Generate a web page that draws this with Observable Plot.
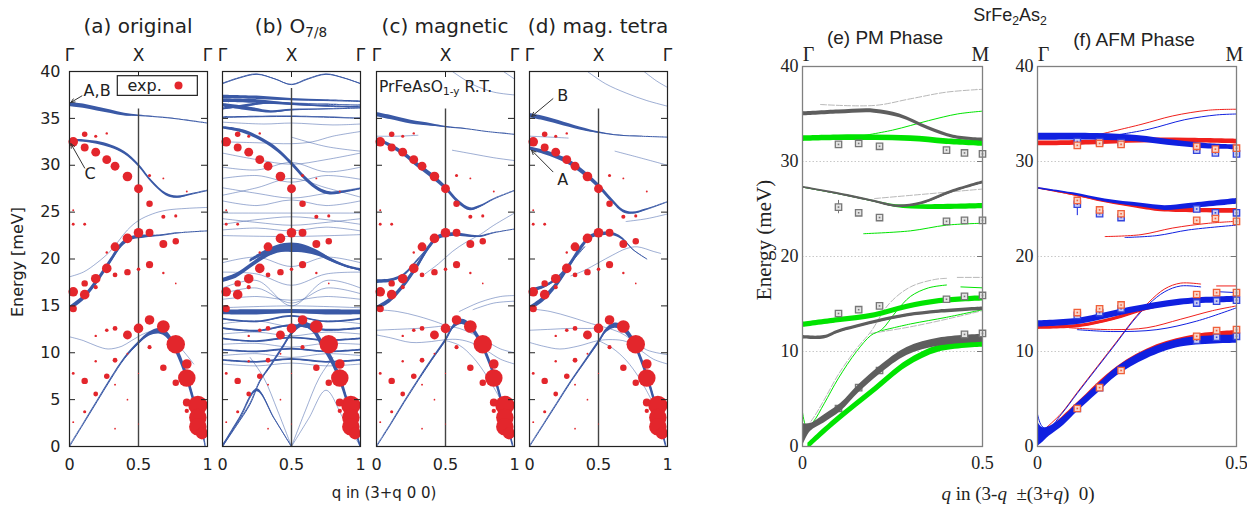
<!DOCTYPE html>
<html><head><meta charset="utf-8">
<script src="https://cdn.jsdelivr.net/npm/d3@7"></script>
<script src="https://cdn.jsdelivr.net/npm/@observablehq/plot@0.6"></script>
<style>
body{margin:0;background:#fff;}
#root{position:relative;width:1247px;height:508px;overflow:hidden;background:#fff;}
.lbl{position:absolute;white-space:nowrap;line-height:1;transform:translate(-50%,-50%);color:#222;}
.sans{font-family:"DejaVu Sans",sans-serif;}
.lsans{font-family:"Liberation Sans",Arial,sans-serif;}
.serif{font-family:"Liberation Serif","Times New Roman",serif;}
sub{font-size:0.68em;vertical-align:-0.3em;line-height:0;}
svg{position:absolute;top:0;}
</style></head><body><div id="root"></div>
<script>
// ---------------- data ----------------
const eTicksLeft = [0,5,10,15,20,25,30,35,40];
const qTicksLeft = [0,0.5,1];
const qSymLeft = ["Γ","X","Γ"];
const eTicksRight = [0,10,20,30,40];
const eGridRight = [10,20,30];
const qTicksRight = [0,0.5];
const qSymRight = ["Γ","M"];

// experimental points (q, E, intensity)
const expDots = [
[0.027,32.5,4],[0.11,33.3,2.3],[0.19,33.1,1.3],[0.27,33.4,1],[0.11,31.9,3.3],[0.19,31.4,3.7],[0.27,30.6,3.7],[0.33,29.9,3.7],[0.42,28.8,4],[0.5,27.5,3.7],[0.58,25.9,2.7],[0.58,28.9,1.3],[0.68,28.6,0.8],[0.68,24.5,1.7],[0.77,24.6,1.3],[0.85,27.2,0.8],[0.027,25.2,0.8],[0.027,23.7,1.2],[0.11,23.7,1.2],[0.33,21.3,3.7],[0.42,22.2,4],[0.5,22.8,4],[0.58,22.8,3.3],[0.68,21.6,3.3],[0.77,21.9,2.7],[0.27,20.7,1],[0.27,19.0,4],[0.33,18.3,2],[0.42,18.6,2.7],[0.5,18.9,1.5],[0.58,19.4,3],[0.68,18.5,1],[0.77,17.4,0.7],[0.19,17.9,4],[0.11,17.4,2.7],[0.19,17.0,1.7],[0.027,16.5,4],[0.11,16.2,4],[0.027,14.7,3],[0.19,11.8,1],[0.27,12.4,1.5],[0.33,12.6,2],[0.42,11.9,3.7],[0.5,12.6,4],[0.58,13.5,4],[0.68,12.8,5.3],[0.58,10.6,1.7],[0.77,10.9,7.7],[0.42,9.9,0.8],[0.33,9.2,2],[0.19,9.1,1],[0.027,7.8,1.2],[0.11,7.0,2.7],[0.27,7.5,2.3],[0.33,6.6,0.8],[0.68,8.4,2.7],[0.85,8.8,4],[0.85,7.3,7.3],[0.77,6.8,2.7],[0.19,5.6,2],[0.11,3.7,1.3],[0.027,2.6,0.8],[0.42,5.0,0.7],[0.85,4.7,3.3],[0.93,4.4,8],[0.85,3.8,1.8],[0.93,3.1,7.3],[0.93,2.1,7.3],[0.96,1.4,5],[0.33,1.9,0.7],[0.5,7.8,0.5],[0.5,2.4,0.5]
];

// panel (a) original : branches [q, E, spectral width]
const aBands = [
 [[0,36.5,0.45],[0.1,36.3,0.45],[0.2,36.0,0.42],[0.3,35.7,0.38],[0.4,35.4,0.3],[0.5,35.3,0.12],[0.6,35.2,0.03],[0.75,35.0,0.02],[0.9,34.7,0.02],[1,34.5,0]],
 [[0,32.7,0.15],[0.1,32.6,0.25],[0.2,32.4,0.3],[0.3,32.0,0.32],[0.4,31.3,0.32],[0.5,30.0,0.32],[0.6,28.2,0.3],[0.7,26.9,0.28],[0.78,26.6,0.22],[0.88,26.9,0.12],[1,27.3,0.05]],
 [[0,14.7,0.45],[0.1,15.8,0.55],[0.2,17.6,0.6],[0.3,19.8,0.55],[0.38,21.5,0.5],[0.45,22.2,0.4],[0.55,22.4,0.3],[0.65,22.5,0.1],[0.8,22.8,0.03],[1,23.0,0]],
 [[0,0,0.1],[0.1,2.4,0.12],[0.2,4.8,0.15],[0.3,7.2,0.2],[0.4,9.4,0.25],[0.5,11.0,0.35],[0.58,12.0,0.45],[0.65,12.3,0.6],[0.7,12.0,0.7],[0.75,11.0,0.85],[0.8,9.5,0.95],[0.85,7.5,1.0],[0.9,5.0,1.0],[0.94,2.8,0.9],[0.97,1.2,0.7],[0.985,0,0.5]]
];
const aFaint = [
 [[0,18.1],[0.1,18.6],[0.2,19.6],[0.3,20.9],[0.42,23.1],[0.5,24.1],[0.6,24.8],[0.7,25.2],[0.85,25.4],[1,25.5]],
 [[0,11.7],[0.1,11.3],[0.2,10.7],[0.28,10.4],[0.38,10.7],[0.45,11.3],[0.55,12.1],[0.62,12.3],[0.7,12.0],[0.8,10.6],[0.9,8.8]]
];

// panel (b) O7/8
const bBands = [
 [[0,38.7,0.08],[0.12,39.3,0.08],[0.25,39.7,0.08],[0.38,39.2,0.08],[0.5,38.6,0.08],[0.62,39.2,0.08],[0.75,39.7,0.08],[0.88,39.3,0.08],[1,38.7,0.08]],
 [[0,37.3,0.35],[0.25,37.2,0.35],[0.5,37.0,0.25],[0.75,36.9,0.15],[1,36.8,0.1]],
 [[0,36.9,0.4],[0.25,36.8,0.4],[0.5,36.5,0.25],[0.75,36.3,0.15],[1,36.2,0.1]],
 [[0,36.4,0.35],[0.2,36.0,0.4],[0.35,35.7,0.25],[0.5,35.9,0.15],[0.75,36.0,0.08],[1,36.1,0.05]],
 [[0,36.0,0.2],[0.15,36.3,0.25],[0.3,36.6,0.25],[0.5,36.6,0.1],[0.75,36.5,0.05],[1,36.4,0.05]],
 [[0,35.1,0.12],[0.5,35.2,0.12],[1,35.0,0.08]],
 [[0,34.0,0.25],[0.15,33.6,0.35],[0.3,32.6,0.4],[0.4,31.6,0.45],[0.5,30.2,0.45],[0.6,28.6,0.45],[0.7,27.4,0.4],[0.78,27.0,0.35],[0.9,27.2,0.2],[1,27.5,0.1]],
 [[0.2,19.8,0.3],[0.3,20.6,0.45],[0.4,21.2,0.55],[0.5,21.4,0.6],[0.6,21.2,0.55],[0.7,20.6,0.45],[0.8,19.8,0.3],[0.9,19.2,0.2],[1,18.8,0.15]],
 [[0,17.7,0.45],[0.1,18.2,0.5],[0.2,19.2,0.5],[0.3,20.2,0.5],[0.4,20.9,0.55],[0.5,21.0,0.6],[0.6,20.9,0.55],[0.7,20.5,0.45],[0.8,19.8,0.35],[0.9,19.2,0.25],[1,18.9,0.15]],
 [[0,14.3,0.5],[0.25,14.3,0.55],[0.5,14.4,0.45],[0.75,14.3,0.55],[1,14.3,0.5]],
 [[0,13.6,0.15],[0.25,13.3,0.15],[0.5,13.9,0.15],[0.75,13.3,0.15],[1,13.6,0.15]],
 [[0,12.6,0.2],[0.25,12.3,0.2],[0.5,12.9,0.2],[0.75,12.4,0.2],[1,12.6,0.2]],
 [[0,11.5,0.15],[0.25,11.2,0.15],[0.5,11.6,0.15],[0.75,11.3,0.15],[1,11.5,0.15]],
 [[0,10.3,0.15],[0.25,10.1,0.15],[0.5,10.4,0.15],[0.75,10.1,0.15],[1,10.3,0.15]],
 [[0,9.2,0.15],[0.25,9.0,0.15],[0.5,9.3,0.15],[0.75,9.0,0.15],[1,9.2,0.15]],
 [[0,0,0.2],[0.125,3,0.25],[0.25,6.0,0.3],[0.375,3,0.15],[0.5,0,0.1]],
 [[0,0,0.1],[0.1,2.2,0.12],[0.2,4.5,0.15],[0.27,6.9,0.2],[0.35,8.6,0.25],[0.43,10.4,0.3],[0.5,12.0,0.4],[0.58,13.0,0.55],[0.65,12.6,0.7],[0.72,11.0,0.85],[0.8,9.0,0.95],[0.87,6.5,1.0],[0.93,3.5,1.0],[0.97,1.5,0.8],[1,0,0.5]]
];
const bFaint = [
 [[0,34.6],[0.3,34.4],[0.5,34.5],[0.8,34.3],[1,34.4]],
 [[0,32.5],[0.25,32.4],[0.5,32.3],[0.65,32.5],[0.8,33.1],[1,33.6]],
 [[0.5,33.0],[0.75,32.0],[1,31.5]],
 [[0,31.3],[0.25,30.6],[0.5,30.1],[0.75,30.6],[1,31.3]],
 [[0,29.8],[0.25,29.5],[0.5,30.3],[0.75,29.3],[1,29.8]],
 [[0,28.6],[0.25,28.9],[0.5,28.2],[0.75,28.9],[1,28.5]],
 [[0,27.6],[0.25,27.0],[0.5,26.5],[0.75,27.0],[1,27.6]],
 [[0,26.8],[0.25,27.6],[0.5,28.6],[0.75,27.6],[1,26.6]],
 [[0,26.2],[0.25,25.7],[0.5,26.3],[0.75,25.7],[1,26.2]],
 [[0,24.9],[0.5,24.9],[1,24.9]],
 [[0,24.3],[0.25,23.9],[0.5,23.6],[0.75,23.9],[1,24.3]],
 [[0,23.7],[0.25,24.2],[0.5,24.5],[0.75,24.2],[1,23.7]],
 [[0,23.1],[0.25,23.3],[0.5,23.0],[0.75,23.4],[1,23.0]],
 [[0,22.5],[0.5,22.4],[1,22.6]],
 [[0,19.6],[0.25,20.2],[0.5,19.2],[0.75,20.2],[1,19.6]],
 [[0,18.6],[0.25,18.4],[0.5,17.2],[0.75,18.4],[1,18.6]],
 [[0,16.9],[0.25,17.7],[0.5,15.0],[0.75,17.7],[1,16.9]],
 [[0,16.3],[0.25,16.9],[0.5,15.3],[0.75,16.9],[1,16.3]],
 [[0,15.7],[0.25,16.0],[0.5,15.6],[0.75,16.0],[1,15.7]],
 [[0,14.8],[0.5,15.0],[1,14.8]],
 [[0,13.1],[0.25,13.4],[0.5,12.8],[0.75,13.4],[1,13.1]],
 [[0,12.0],[0.25,12.2],[0.5,11.8],[0.75,12.2],[1,12.0]],
 [[0,10.9],[0.25,11.0],[0.5,10.6],[0.75,11.0],[1,10.9]],
 [[0,9.7],[0.25,9.9],[0.5,9.5],[0.75,9.9],[1,9.7]],
 [[0,8.8],[0.25,8.6],[0.5,8.9],[0.75,8.6],[1,8.8]],
 [[0.5,0],[0.625,3],[0.75,6.0],[0.875,3],[1,0]],
 [[0.5,0],[0.6,3.8],[0.7,7.3],[0.8,9.5]],
 [[0.5,0],[0.4,3.8],[0.3,7.3],[0.2,9.5]]
];

// panel (c) magnetic
const cBands = [
 [[0,35.4,0.45],[0.1,35.1,0.45],[0.25,34.6,0.4],[0.4,34.3,0.28],[0.5,34.1,0.12],[0.65,33.9,0.03],[0.8,33.6,0.02],[1,33.3,0]],
 [[0,32.8,0.25],[0.1,32.1,0.4],[0.2,31.2,0.5],[0.3,30.0,0.55],[0.4,28.9,0.55],[0.5,27.6,0.5],[0.6,26.0,0.42],[0.68,25.3,0.32],[0.75,25.6,0.2],[0.85,26.4,0.08],[1,27.3,0.02]],
 [[0,14.7,0.45],[0.1,15.6,0.55],[0.2,17.2,0.6],[0.3,19.3,0.6],[0.38,21.2,0.55],[0.45,22.3,0.45],[0.55,22.6,0.38],[0.65,22.5,0.28],[0.75,22.4,0.18],[0.85,22.8,0.05],[1,23.2,0]],
 [[0,17.6,0.4],[0.1,17.7,0.35],[0.2,18.3,0.28],[0.3,19.9,0.18],[0.4,21.6,0.08]],
 [[0,0,0.08],[0.1,2.3,0.12],[0.2,4.7,0.15],[0.3,7.0,0.2],[0.4,9.2,0.25],[0.5,11.3,0.35],[0.56,12.8,0.45],[0.62,13.3,0.55],[0.68,12.8,0.65],[0.75,11.3,0.75],[0.82,9.0,0.85],[0.88,6.3,0.95],[0.93,3.5,1.0],[0.97,1.2,0.8],[0.99,0,0.5]]
];
const cFaint = [
 [[0,33.1],[0.15,33.1],[0.3,33.2]],
 [[0.55,31.6],[0.7,31.2],[0.85,30.8],[1,30.5]],
 [[0.55,40],[0.7,38.6],[0.85,37.8],[1,37.5]],
 [[0.92,40],[1,39.2]],
 [[0.35,18.4],[0.45,19.5],[0.55,20.8],[0.65,21.8],[0.75,22.6],[0.85,23.6],[1,24.9]],
 [[0.6,14.4],[0.75,15.4],[0.9,16.0],[1,16.1]],
 [[0.7,14.6],[0.85,15.3],[1,15.5]],
 [[0,14.6],[0.15,14.4],[0.3,13.9],[0.45,13.2],[0.5,12.9],[0.6,12.6],[0.7,12.0],[0.8,11.2],[0.9,10.4],[1,10.0]],
 [[0,12.4],[0.15,12.5],[0.3,12.6],[0.45,12.8],[0.5,12.9]],
 [[0,11.9],[0.1,11.6],[0.25,11.1],[0.4,11.2],[0.5,11.4],[0.6,11.4],[0.7,11.0],[0.8,10.2],[0.9,9.3],[1,8.8]],
 [[0.5,11.3],[0.6,10.8],[0.7,9.5],[0.8,7.5],[0.9,5.0]]
];

// panel (d) mag. tetra
const dBands = [
 [[0,35.3,0.45],[0.1,35.0,0.45],[0.25,34.4,0.4],[0.4,33.8,0.3],[0.5,33.5,0.15],[0.65,33.2,0.03],[0.8,33.1,0.02],[1,33.0,0]],
 [[0,31.8,0.35],[0.1,31.4,0.45],[0.2,30.9,0.5],[0.3,30.2,0.55],[0.4,29.1,0.55],[0.5,27.8,0.5],[0.6,26.2,0.42],[0.68,25.1,0.32],[0.75,24.9,0.22],[0.85,25.3,0.12],[1,26.1,0.03]],
 [[0,14.7,0.45],[0.1,15.7,0.55],[0.2,17.3,0.6],[0.3,19.5,0.6],[0.38,21.3,0.55],[0.45,22.4,0.45],[0.55,22.7,0.38],[0.62,22.6,0.32],[0.68,22.1,0.25],[0.75,21.0,0.08],[0.85,20.0,0.02]],
 [[0,16.6,0.4],[0.1,17.0,0.35],[0.2,17.9,0.28],[0.3,19.6,0.18],[0.4,21.3,0.06]],
 [[0,0,0.08],[0.1,2.3,0.12],[0.2,4.6,0.15],[0.3,6.9,0.2],[0.4,9.0,0.25],[0.5,11.1,0.35],[0.56,12.4,0.45],[0.62,12.9,0.55],[0.68,12.6,0.65],[0.75,11.3,0.75],[0.82,8.9,0.85],[0.88,6.2,0.95],[0.93,3.5,1.0],[0.97,1.2,0.8],[0.99,0,0.5]]
];
const dFaint = [
 [[0,33.1],[0.15,33.0],[0.28,32.9]],
 [[0.42,40],[0.55,38.7],[0.7,37.7],[0.85,36.9],[1,36.3]],
 [[0.83,40],[0.92,39],[1,38.3]],
 [[0.62,31.5],[0.8,30.8],[1,30.0]],
 [[0.7,24.0],[0.85,24.3],[1,24.8]],
 [[0.3,18.2],[0.4,18.8],[0.5,19.6],[0.6,20.4],[0.7,21.1],[0.78,21.3],[0.9,20.8],[0.95,20.6]],
 [[0,14.7],[0.15,14.4],[0.3,13.8],[0.45,13.1],[0.55,12.7],[0.65,12.2],[0.72,11.6],[0.85,10.3],[1,9.8]],
 [[0,12.4],[0.15,12.5],[0.3,12.6],[0.45,12.6],[0.5,12.7]],
 [[0,11.1],[0.1,10.7],[0.22,10.4],[0.35,10.7],[0.5,11.3],[0.6,11.4],[0.7,11.2],[0.8,10.3],[0.9,9.3],[1,8.8]],
 [[0.5,11.3],[0.6,10.5],[0.7,9.2],[0.8,7.2],[0.9,4.5]]
];

// annotations (text at q,E ; arrows q1,E1 -> q2,E2)
const aNotes = [[0.2,37.9,"A,B"],[0.15,29.1,"C"]];
const aArrows = [[0.09,37.4,0.01,36.7],[0.11,29.7,0.01,32.3]];
const dNotes = [[0.24,37.4,"B"],[0.24,28.4,"A"]];
const dArrows = [[0.17,37.1,0.015,35.2],[0.17,29.3,0.015,31.6]];
const legendBox = [[0.35,0.93,37.4,39.5]];
const legendText = [[0.42,38.45,"exp."]];
const legendDot = [[0.79,38.5]];
const xLineRange = {a:[0,36], b:[0,38.2], c:[0,36], d:[0,36]};

// ---------- (e) PM phase ----------
const eGrayThick = [
 [[0,35.0,0.42],[0.1,35.2,0.42],[0.2,35.3,0.42],[0.27,34.8,0.4],[0.35,33.5,0.38],[0.42,32.6,0.35],[0.5,32.3,0.33]],
 [[0,27.3,0.2],[0.1,26.6,0.22],[0.2,25.8,0.24],[0.26,25.3,0.25],[0.33,25.6,0.28],[0.42,26.9,0.3],[0.5,27.8,0.32]],
 [[0,11.5,0.35],[0.06,11.5,0.35],[0.1,12.1,0.35],[0.2,13.1,0.35],[0.29,13.8,0.35],[0.38,14.2,0.35],[0.5,14.5,0.35]],
 [[0,1.2,2.4],[0.022,2.0,0.85],[0.06,2.9,0.85],[0.106,4.1,0.85],[0.157,6.1,0.85],[0.214,8.0,0.85],[0.29,10.0,0.85],[0.38,11.0,0.85],[0.5,11.4,0.85]]
];
const eGreenThick = [
 [[0,32.4,0.6],[0.1,32.5,0.6],[0.2,32.5,0.6],[0.3,32.4,0.6],[0.4,32.1,0.6],[0.5,31.9,0.6]],
 [[0,27.3,0.1],[0.1,26.6,0.1],[0.2,25.8,0.15],[0.26,25.3,0.3],[0.35,25.2,0.5],[0.5,25.3,0.55]],
 [[0,12.8,0.55],[0.1,13.3,0.55],[0.2,13.8,0.55],[0.29,14.7,0.55],[0.38,15.3,0.55],[0.5,15.6,0.55]],
 [[0.015,0,0.7],[0.04,0.9,0.7],[0.106,3.1,0.7],[0.198,5.9,0.7],[0.29,8.7,0.7],[0.38,10.3,0.7],[0.5,10.8,0.7]]
];
const eGreenThin = [
 [[0.15,32.6],[0.25,33.3],[0.35,34.3],[0.43,35.0],[0.5,35.3]],
 [[0.17,22.4],[0.3,22.7],[0.4,23.3],[0.5,23.5]],
 [[0,3.6],[0.012,2.0],[0.03,2.6],[0.06,4.5],[0.1,7.2],[0.15,10.0],[0.19,11.7],[0.22,12.3],[0.26,14.2],[0.3,15.8],[0.35,16.7],[0.4,17.0]],
 [[0.22,12.2],[0.3,12.9],[0.4,13.6],[0.5,14.4]],
 [[0.44,16.8],[0.5,16.7]]
];
const eGrayThin = [
 [[0.05,36.0],[0.2,35.9],[0.3,36.6],[0.4,37.3],[0.5,37.6]],
 [[0.2,26.1],[0.35,26.6],[0.5,27.1]],
 [[0.01,2.0],[0.03,3.0],[0.06,4.9],[0.1,7.6],[0.15,10.3],[0.19,12.1],[0.24,15.0],[0.3,16.8],[0.37,17.6],[0.4,17.7]],
 [[0.19,11.9],[0.3,12.6],[0.4,13.4],[0.5,14.3]],
 [[0.43,17.8],[0.5,17.8]]
];
const eSquares = [
 [0.1,31.8],[0.156,31.9],[0.214,31.6],[0.4,31.2],[0.45,30.9],[0.5,30.8],
 [0.1,25.2],[0.156,24.6],[0.214,24.1],[0.4,23.7],[0.45,23.8],[0.5,23.8],
 [0.1,14.0],[0.156,14.4],[0.214,14.8],[0.4,15.5],[0.45,15.8],[0.5,15.9],
 [0.45,11.8],[0.5,11.9]
];
const eHiddenSquares = [[0.1,4.0],[0.156,6.2],[0.214,8.0]];
const eErrors = [[0.1,24.5,25.9]];

// ---------- (f) AFM phase ----------
const fRedThick = [
 [[0,31.9,0.5],[0.13,32.0,0.5],[0.26,32.2,0.5],[0.38,32.2,0.5],[0.5,32.1,0.5]],
 [[0,27.2,0.15],[0.09,26.5,0.2],[0.17,25.8,0.3],[0.26,25.2,0.4],[0.32,24.9,0.45],[0.5,24.8,0.5]],
 [[0,12.5,0.35],[0.107,12.7,0.35],[0.19,13.4,0.35],[0.275,14.5,0.35],[0.36,15.2,0.35],[0.5,15.5,0.35]],
 [[0.03,1.5,0.6],[0.1,4.3,0.6],[0.2,8.1,0.6],[0.3,10.4,0.6],[0.4,11.5,0.6],[0.5,11.9,0.6]]
];
const fBlueThick = [
 [[0,32.6,0.75],[0.15,32.6,0.7],[0.25,32.4,0.65],[0.35,31.9,0.6],[0.43,31.6,0.55],[0.5,31.5,0.5]],
 [[0,27.2,0.15],[0.09,26.6,0.2],[0.17,25.9,0.3],[0.26,25.4,0.4],[0.32,25.1,0.5],[0.38,25.3,0.55],[0.5,25.8,0.6]],
 [[0,12.9,0.65],[0.107,13.2,0.65],[0.23,14.3,0.65],[0.36,15.2,0.65],[0.5,15.5,0.65]],
 [[0,1.3,2.6],[0.012,1.2,1.6],[0.03,1.6,1.0],[0.066,2.7,0.9],[0.1,4.1,0.9],[0.15,6.0,0.9],[0.2,7.9,0.9],[0.275,9.7,0.9],[0.36,10.9,0.85],[0.5,11.3,0.85]]
];
const fRedThin = [
 [[0.15,32.8],[0.26,33.9],[0.34,34.8],[0.43,35.4],[0.5,35.5]],
 [[0.17,22.1],[0.26,22.3],[0.34,23.0],[0.43,23.5],[0.5,23.7]],
 [[0.02,1.9],[0.06,3.5],[0.1,5.7],[0.15,8.4],[0.2,11.1],[0.24,13.3],[0.28,15.2],[0.32,16.6],[0.36,17.2],[0.41,17.1]],
 [[0.08,12.5],[0.19,12.3],[0.275,12.5],[0.36,13.4],[0.44,14.3],[0.5,14.8]],
 [[0.45,16.9],[0.5,16.9]]
];
const fBlueThin = [
 [[0.2,32.8],[0.28,33.4],[0.37,34.4],[0.45,34.9],[0.5,35.0]],
 [[0.22,22.0],[0.3,22.2],[0.38,22.8],[0.5,23.3]],
 [[0,3.4],[0.01,2.2],[0.025,1.8],[0.06,3.4],[0.1,5.6],[0.15,8.3],[0.2,11.0],[0.24,13.2],[0.28,15.0],[0.32,16.3],[0.36,16.9],[0.41,16.8]],
 [[0.1,12.3],[0.19,12.1],[0.3,12.3],[0.4,13.2],[0.5,14.6]],
 [[0.45,16.3],[0.5,16.2]]
];
const fRedSquares = [
 [0.1,31.7],[0.156,31.9],[0.21,31.8],[0.4,31.6],[0.447,31.3],[0.5,31.4],
 [0.1,25.9],[0.156,24.9],[0.21,24.5],[0.4,23.8],[0.447,24.0],[0.5,23.7],
 [0.1,14.1],[0.156,14.5],[0.21,14.9],[0.4,16.0],[0.45,16.2],[0.5,16.2],
 [0.4,11.6],[0.45,12.2],[0.5,12.3],
 [0.1,4.0],[0.156,6.2],[0.21,8.0]
];
const fBlueSquares = [
 [0.1,32.1],[0.156,32.1],[0.21,32.0],[0.4,31.2],[0.447,30.9],[0.5,30.8],
 [0.1,25.5],[0.156,24.5],[0.21,24.1],[0.4,25.0],[0.447,24.6],[0.5,24.6],
 [0.1,13.8],[0.156,14.1],[0.21,14.5],[0.4,15.1],[0.45,15.3],[0.5,15.4],
 [0.4,11.2],[0.45,11.5],[0.5,11.6],
 [0.1,4.0],[0.156,6.2]
];
const fErrors = [[0.1,24.3,25.6]];

// ---------------- drawing ----------------
const BLUE = "#3a59a6", RED = "#e3262c";
const root = document.getElementById("root");

function toRows(branches){
  const out = [];
  branches.forEach((b,i)=>b.forEach(p=>out.push({i, q:p[0], E:p[1], w:p[2] ?? 0})));
  return out;
}
function bandMarks(branches, color, opts={}){
  const r = toRows(branches);
  const op = opts.opacity ?? 1, sw = opts.strokeWidth ?? 1;
  return [
    Plot.areaY(r, {x:"q", y1:d=>d.E-d.w/2, y2:d=>d.E+d.w/2, z:"i", fill:color, fillOpacity:op, curve:"catmull-rom", clip:true}),
    Plot.line(r, {x:"q", y:"E", z:"i", stroke:color, strokeWidth:sw, strokeOpacity:op, curve:"catmull-rom", clip:true, strokeDasharray:opts.dash})
  ];
}
function place(svg, left){
  svg.style.left = left + "px";
  root.appendChild(svg);
}

const LW = 138;
function leftPanel(frameLeft, bands, faint, xr, showY, extra){
  const ml = showY ? 69 : 14, mr = 14;
  const marks = [
    ...bandMarks(faint, BLUE, {opacity:0.55, strokeWidth:0.9}),
    ...bandMarks(bands, BLUE),
    Plot.ruleX([0.5], {y1:xr[0], y2:xr[1], stroke:"#444", strokeWidth:1.4}),
    Plot.dot(expDots, {x:d=>d[0], y:d=>d[1], r:d=>d[2], fill:RED, stroke:"none"}),
    Plot.tickY(eTicksLeft, {y:d=>d, insetRight:LW-6, stroke:"#222"}),
    Plot.tickY(eTicksLeft, {y:d=>d, insetLeft:LW-6, stroke:"#222"}),
    Plot.tickX([0.5], {x:d=>d, insetBottom:375-6, stroke:"#222"}),
    Plot.frame({stroke:"#222", strokeWidth:1.2}),
    Plot.axisX(qTicksLeft, {anchor:"bottom", tickSize:0, tickPadding:12, label:null, tickFormat:d=>String(d), fontSize:16}),
    Plot.axisX(qTicksLeft, {anchor:"top", tickSize:0, tickPadding:11, label:null, tickFormat:d=>qSymLeft[qTicksLeft.indexOf(d)], fontSize:17}),
    ...(extra || [])
  ];
  if (showY) marks.push(Plot.axisY(eTicksLeft, {anchor:"left", tickSize:0, tickPadding:9, label:null, fontSize:16}));
  const svg = Plot.plot({
    width: ml+LW+mr, height:508, marginLeft:ml, marginRight:mr, marginTop:71, marginBottom:62,
    x:{domain:[0,1], axis:null}, y:{domain:[0,40], axis:null}, r:{type:"linear", domain:[0,8], range:[0,9.6]},
    style:{fontFamily:"DejaVu Sans, sans-serif", fontSize:"16px", color:"#222", background:"transparent", overflow:"visible"},
    marks
  });
  place(svg, frameLeft - ml);
}

const annArrow = {stroke:"#333", strokeWidth:1, headLength:7, headAngle:50};
leftPanel(69, aBands, aFaint, xLineRange.a, true, [
  Plot.rect(legendBox, {x1:d=>d[0], x2:d=>d[1], y1:d=>d[2], y2:d=>d[3], fill:"white", stroke:"#222", strokeWidth:1.2}),
  Plot.text(legendText, {x:d=>d[0], y:d=>d[1], text:d=>d[2], textAnchor:"start", fontSize:16, fill:"#222"}),
  Plot.dot(legendDot, {x:d=>d[0], y:d=>d[1], r:4, fill:RED}),
  Plot.text(aNotes, {x:d=>d[0], y:d=>d[1], text:d=>d[2], fontSize:16, fill:"#222"}),
  Plot.arrow(aArrows, {x1:d=>d[0], y1:d=>d[1], x2:d=>d[2], y2:d=>d[3], ...annArrow})
]);
leftPanel(222, bBands, bFaint, xLineRange.b, false);
leftPanel(376, cBands, cFaint, xLineRange.c, false);
leftPanel(529, dBands, dFaint, xLineRange.d, false, [
  Plot.text(dNotes, {x:d=>d[0], y:d=>d[1], text:d=>d[2], fontSize:16, fill:"#222"}),
  Plot.arrow(dArrows, {x1:d=>d[0], y1:d=>d[1], x2:d=>d[2], y2:d=>d[3], ...annArrow})
]);

// right panels
const GRAY = "#5e5e5e", GREEN = "#00e400", FBLUE = "#1020e0", FRED = "#f0201c";
function rightPanel(frameLeft, W, marks){
  const ml = 40, mr = 16;
  const svg = Plot.plot({
    width: ml+W+mr, height:508, marginLeft:ml, marginRight:mr, marginTop:66, marginBottom:62,
    x:{domain:[0,0.5], axis:null}, y:{domain:[0,40], axis:null},
    style:{fontFamily:"Liberation Serif, serif", fontSize:"18px", color:"#222", background:"transparent", overflow:"visible"},
    marks:[
      Plot.ruleY(eGridRight, {y:d=>d, stroke:"#c8c8c8", strokeDasharray:"1.5,2", strokeWidth:1}),
      ...marks,
      Plot.tickY(eTicksRight, {y:d=>d, insetLeft:W-5, stroke:"#777"}),
      Plot.frame({stroke:"#808080", strokeWidth:1.3}),
      Plot.axisY(eTicksRight, {anchor:"left", tickSize:0, tickPadding:4, label:null, fontSize:18}),
      Plot.axisX(qTicksRight, {anchor:"bottom", tickSize:0, tickPadding:10, label:null, tickFormat:d=>String(d), fontSize:18}),
      Plot.axisX([qTicksRight[0]], {anchor:"top", tickSize:0, tickPadding:6, label:null, tickFormat:d=>qSymRight[qTicksRight.indexOf(d)], fontSize:20, dx:6}),
      Plot.axisX([qTicksRight[1]], {anchor:"top", tickSize:0, tickPadding:6, label:null, tickFormat:d=>qSymRight[qTicksRight.indexOf(d)], fontSize:20, dx:-2})
    ]
  });
  place(svg, frameLeft - ml);
}
function squares(data, color, fill){
  return [
    Plot.dot(data, {x:d=>d[0], y:d=>d[1], symbol:"square", r:3.6, stroke:color, strokeWidth:1.3, fill:fill}),
    Plot.dot(data, {x:d=>d[0], y:d=>d[1], symbol:"square", r:0.9, fill:color})
  ];
}
rightPanel(802, 180, [
  ...bandMarks(eGrayThin, "#9a9a9a", {opacity:0.8, strokeWidth:0.9, dash:"6,2"}),
  ...bandMarks(eGreenThin, GREEN, {strokeWidth:1}),
  ...squares(eHiddenSquares, "#777", "#e4e4e4"),
  ...bandMarks(eGreenThick, GREEN),
  ...bandMarks(eGrayThick, GRAY),
  Plot.ruleX(eErrors, {x:d=>d[0], y1:d=>d[1], y2:d=>d[2], stroke:"#777", strokeWidth:1}),
  ...squares(eSquares, "#777", "#e4e4e4")
]);
rightPanel(1037, 199, [
  ...bandMarks(fRedThin, FRED, {strokeWidth:1}),
  ...bandMarks(fBlueThin, FBLUE, {strokeWidth:1}),
  ...bandMarks(fRedThick, FRED),
  ...bandMarks(fBlueThick, FBLUE),
  Plot.ruleX(fErrors, {x:d=>d[0], y1:d=>d[1], y2:d=>d[2], stroke:FBLUE, strokeWidth:1}),
  ...squares(fBlueSquares, "#3344dd", "#c8ccf4"),
  ...squares(fRedSquares, "#f0603a", "#fbd6c8")
]);

// ---------------- text labels ----------------
const labels = [
  ["(a) original", 138, 26, "sans", 20],
  ["(b) O<sub>7/8</sub>", 291, 26, "sans", 20],
  ["(c) magnetic", 445, 26, "sans", 20],
  ["(d) mag. tetra", 598, 26, "sans", 20],
  ["q in (3+q 0 0)", 384, 493, "sans", 15],
  ["SrFe<sub>2</sub>As<sub>2</sub>", 1010, 15, "lsans", 18],
  ["(e) PM Phase", 885, 37, "lsans", 19],
  ["(f) AFM Phase", 1134, 39, "lsans", 19],
  ["<i>q</i> in (3-<i>q</i>&nbsp;&nbsp;±(3+<i>q</i>)&nbsp;&nbsp;0)", 1018, 493, "serif", 19]
];
labels.forEach(([t,x,y,cls,fs])=>{
  const d = document.createElement("div");
  d.className = "lbl " + cls; d.innerHTML = t;
  d.style.left = x+"px"; d.style.top = y+"px"; d.style.fontSize = fs+"px";
  root.appendChild(d);
});
const inner = document.createElement("div");
inner.className = "lbl sans"; inner.innerHTML = "PrFeAsO<sub>1-y</sub> R.T.";
inner.style.transform = "translate(0,-50%)"; inner.style.left = "379px"; inner.style.top = "88px"; inner.style.fontSize = "15.5px";
root.appendChild(inner);
[["Energy [meV]", 18, 262, "sans", 16], ["Energy (meV)", 764, 240, "serif", 21]].forEach(([t,x,y,cls,fs])=>{
  const d = document.createElement("div");
  d.className = "lbl " + cls; d.textContent = t;
  d.style.left = x+"px"; d.style.top = y+"px"; d.style.fontSize = fs+"px";
  d.style.transform = "translate(-50%,-50%) rotate(-90deg)";
  root.appendChild(d);
});
</script></body></html>
